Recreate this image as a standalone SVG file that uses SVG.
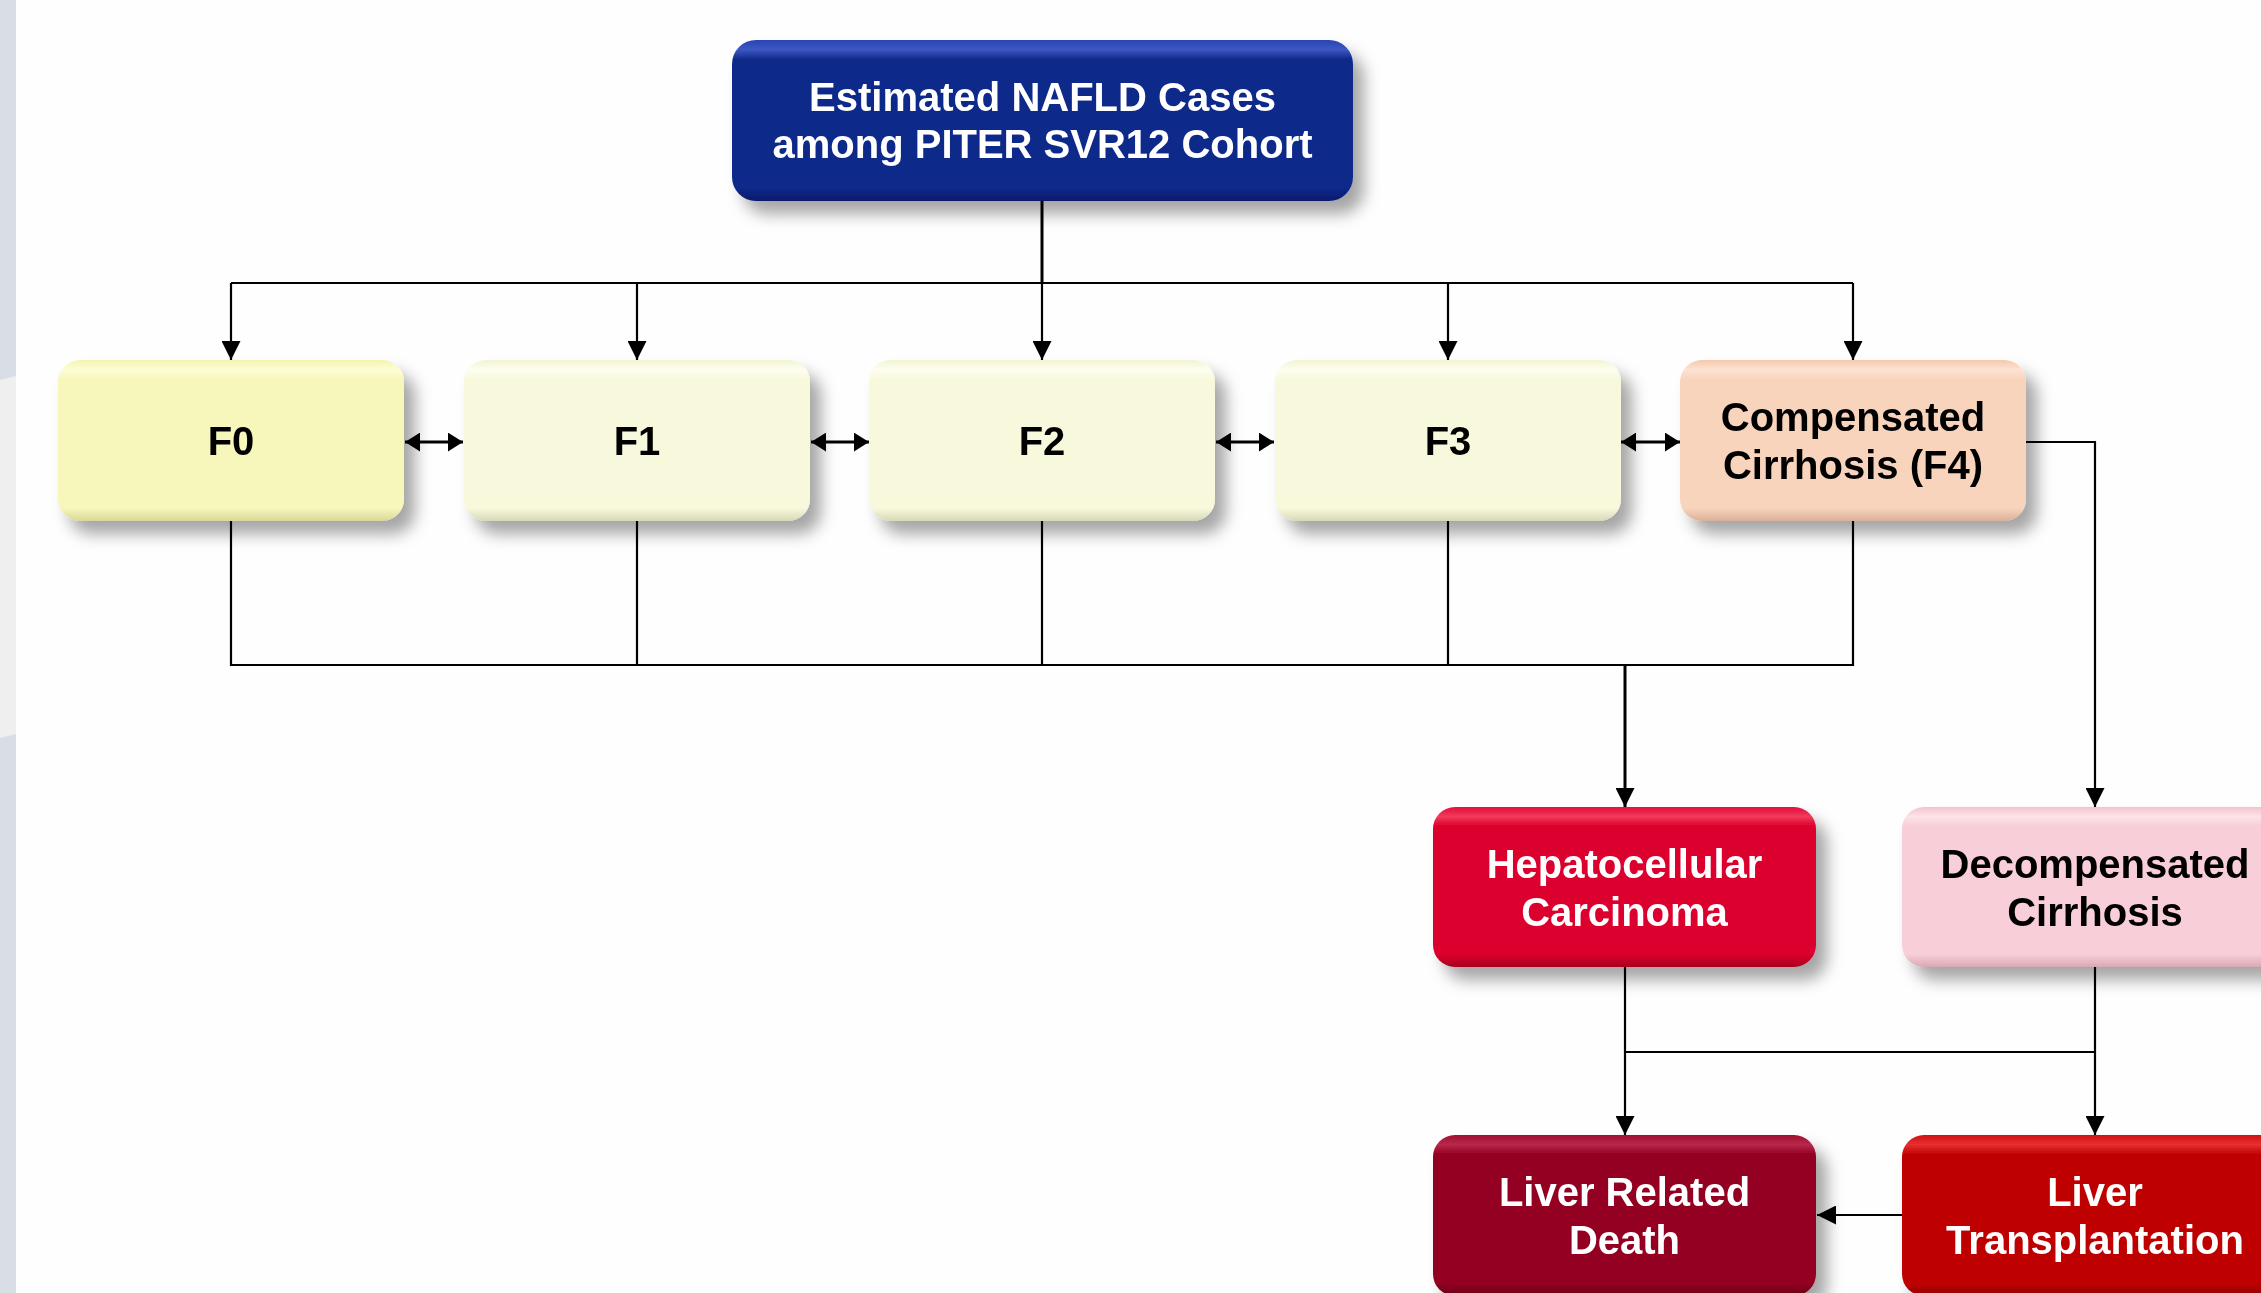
<svg xmlns="http://www.w3.org/2000/svg" width="2261" height="1293" viewBox="0 0 2261 1293">
<style>
.lbl{font-family:"Liberation Sans",Arial,sans-serif;font-weight:bold;font-size:40px;text-anchor:middle}
.w{fill:#ffffff}
.k{fill:#000000}
.ln{fill:none;stroke:#000;stroke-width:2.2}
.lt{fill:none;stroke:#000;stroke-width:3}
</style>
<defs>
<filter id="sh" x="-10%" y="-15%" width="125%" height="140%">
<feDropShadow dx="11" dy="13" stdDeviation="8" flood-color="#000" flood-opacity="0.35"/>
</filter>
<linearGradient id="gBlue" x1="0" y1="0" x2="0" y2="1">
<stop offset="0" stop-color="#2a44b0"/><stop offset="0.06" stop-color="#3c58c4"/><stop offset="0.12" stop-color="#0f2a8a"/><stop offset="0.92" stop-color="#0f2a8a"/><stop offset="1" stop-color="#07186a"/>
</linearGradient>
<linearGradient id="gF0" x1="0" y1="0" x2="0" y2="1">
<stop offset="0" stop-color="#f4f4b0"/><stop offset="0.06" stop-color="#fdfdd6"/><stop offset="0.12" stop-color="#f7f7bc"/><stop offset="0.92" stop-color="#f7f7bc"/><stop offset="1" stop-color="#d8d898"/>
</linearGradient>
<linearGradient id="gF" x1="0" y1="0" x2="0" y2="1">
<stop offset="0" stop-color="#f2f4d2"/><stop offset="0.06" stop-color="#fdfef0"/><stop offset="0.12" stop-color="#f8f9dc"/><stop offset="0.92" stop-color="#f8f9dc"/><stop offset="1" stop-color="#d8d9b8"/>
</linearGradient>
<linearGradient id="gF4" x1="0" y1="0" x2="0" y2="1">
<stop offset="0" stop-color="#f5c9ae"/><stop offset="0.06" stop-color="#fde2d2"/><stop offset="0.12" stop-color="#f8d4bc"/><stop offset="0.92" stop-color="#f8d4bc"/><stop offset="1" stop-color="#d9b098"/>
</linearGradient>
<linearGradient id="gHCC" x1="0" y1="0" x2="0" y2="1">
<stop offset="0" stop-color="#e0103a"/><stop offset="0.06" stop-color="#f23a5c"/><stop offset="0.12" stop-color="#dc002d"/><stop offset="0.92" stop-color="#dc002d"/><stop offset="1" stop-color="#a8001f"/>
</linearGradient>
<linearGradient id="gDC" x1="0" y1="0" x2="0" y2="1">
<stop offset="0" stop-color="#f5c2ce"/><stop offset="0.06" stop-color="#fde3e9"/><stop offset="0.12" stop-color="#f8ced8"/><stop offset="0.92" stop-color="#f8ced8"/><stop offset="1" stop-color="#d8a9b3"/>
</linearGradient>
<linearGradient id="gLRD" x1="0" y1="0" x2="0" y2="1">
<stop offset="0" stop-color="#a01030"/><stop offset="0.06" stop-color="#b8284a"/><stop offset="0.12" stop-color="#930021"/><stop offset="0.92" stop-color="#930021"/><stop offset="1" stop-color="#6a0016"/>
</linearGradient>
<linearGradient id="gLT" x1="0" y1="0" x2="0" y2="1">
<stop offset="0" stop-color="#d01010"/><stop offset="0.06" stop-color="#e83030"/><stop offset="0.12" stop-color="#bf0303"/><stop offset="0.92" stop-color="#bf0303"/><stop offset="1" stop-color="#900000"/>
</linearGradient>
<marker id="ah" viewBox="0 0 20 20" refX="20" refY="10" markerWidth="19" markerHeight="19" markerUnits="userSpaceOnUse" orient="auto-start-reverse">
<path d="M0,0 L20,10 L0,20 Z" fill="#000"/>
</marker>
<marker id="ah2" viewBox="0 0 16 20" refX="16" refY="10" markerWidth="15" markerHeight="19" markerUnits="userSpaceOnUse" orient="auto-start-reverse">
<path d="M0,0 L16,10 L0,20 Z" fill="#000"/>
</marker>
</defs>
<rect x="0" y="0" width="2261" height="1293" fill="#fefefe"/>
<g id="sidebar">
<rect x="0" y="0" width="16" height="1293" fill="#d8dde6"/>
<polygon points="0,380 16,376 16,734 0,738" fill="#efefef"/>
</g>
<g id="connectors">
<path class="lt" d="M1042,201 V283"/>
<path class="ln" d="M231,283 H1853"/>
<path class="ln" d="M231,283 V360" marker-end="url(#ah)"/>
<path class="ln" d="M637,283 V360" marker-end="url(#ah)"/>
<path class="ln" d="M1042,283 V360" marker-end="url(#ah)"/>
<path class="ln" d="M1448,283 V360" marker-end="url(#ah)"/>
<path class="ln" d="M1853,283 V360" marker-end="url(#ah)"/>
<path class="lt" d="M405,442 H463" marker-start="url(#ah2)" marker-end="url(#ah2)"/>
<path class="lt" d="M811,442 H869" marker-start="url(#ah2)" marker-end="url(#ah2)"/>
<path class="lt" d="M1216,442 H1274" marker-start="url(#ah2)" marker-end="url(#ah2)"/>
<path class="lt" d="M1621,442 H1680" marker-start="url(#ah2)" marker-end="url(#ah2)"/>
<path class="ln" d="M231,521 V665 H1853 V521"/>
<path class="ln" d="M637,521 V665"/>
<path class="ln" d="M1042,521 V665"/>
<path class="ln" d="M1448,521 V665"/>
<path class="lt" d="M1625,665 V807" marker-end="url(#ah)"/>
<path class="ln" d="M2026,442 H2095 V807" marker-end="url(#ah)"/>
<path class="ln" d="M1625,967 V1135" marker-end="url(#ah)"/>
<path class="ln" d="M2095,967 V1135" marker-end="url(#ah)"/>
<path class="ln" d="M1625,1052 H2095"/>
<path class="ln" d="M1902,1215 H1817" marker-end="url(#ah)"/>
</g>
<g id="nafld" filter="url(#sh)">
<rect x="732" y="40" width="621" height="161" rx="24" fill="url(#gBlue)"/>
<text class="lbl w" x="1042.5" y="111">Estimated NAFLD Cases</text>
<text class="lbl w" x="1042.5" y="158">among PITER SVR12 Cohort</text>
</g>
<g id="f0" filter="url(#sh)">
<rect x="58" y="360" width="346" height="161" rx="22" fill="url(#gF0)"/>
<text class="lbl k" x="231" y="455">F0</text>
</g>
<g id="f1" filter="url(#sh)">
<rect x="464" y="360" width="346" height="161" rx="22" fill="url(#gF)"/>
<text class="lbl k" x="637" y="455">F1</text>
</g>
<g id="f2" filter="url(#sh)">
<rect x="869" y="360" width="346" height="161" rx="22" fill="url(#gF)"/>
<text class="lbl k" x="1042" y="455">F2</text>
</g>
<g id="f3" filter="url(#sh)">
<rect x="1275" y="360" width="346" height="161" rx="22" fill="url(#gF)"/>
<text class="lbl k" x="1448" y="455">F3</text>
</g>
<g id="f4" filter="url(#sh)">
<rect x="1680" y="360" width="346" height="161" rx="22" fill="url(#gF4)"/>
<text class="lbl k" x="1853" y="431">Compensated</text>
<text class="lbl k" x="1853" y="479">Cirrhosis (F4)</text>
</g>
<g id="hcc" filter="url(#sh)">
<rect x="1433" y="807" width="383" height="160" rx="22" fill="url(#gHCC)"/>
<text class="lbl w" x="1624.5" y="878">Hepatocellular</text>
<text class="lbl w" x="1624.5" y="926">Carcinoma</text>
</g>
<g id="decomp" filter="url(#sh)">
<rect x="1902" y="807" width="386" height="160" rx="22" fill="url(#gDC)"/>
<text class="lbl k" x="2095" y="878">Decompensated</text>
<text class="lbl k" x="2095" y="926">Cirrhosis</text>
</g>
<g id="lrd" filter="url(#sh)">
<rect x="1433" y="1135" width="383" height="161" rx="22" fill="url(#gLRD)"/>
<text class="lbl w" x="1624.5" y="1206">Liver Related</text>
<text class="lbl w" x="1624.5" y="1254">Death</text>
</g>
<g id="lt" filter="url(#sh)">
<rect x="1902" y="1135" width="386" height="161" rx="22" fill="url(#gLT)"/>
<text class="lbl w" x="2095" y="1206">Liver</text>
<text class="lbl w" x="2095" y="1254">Transplantation</text>
</g>
</svg>
